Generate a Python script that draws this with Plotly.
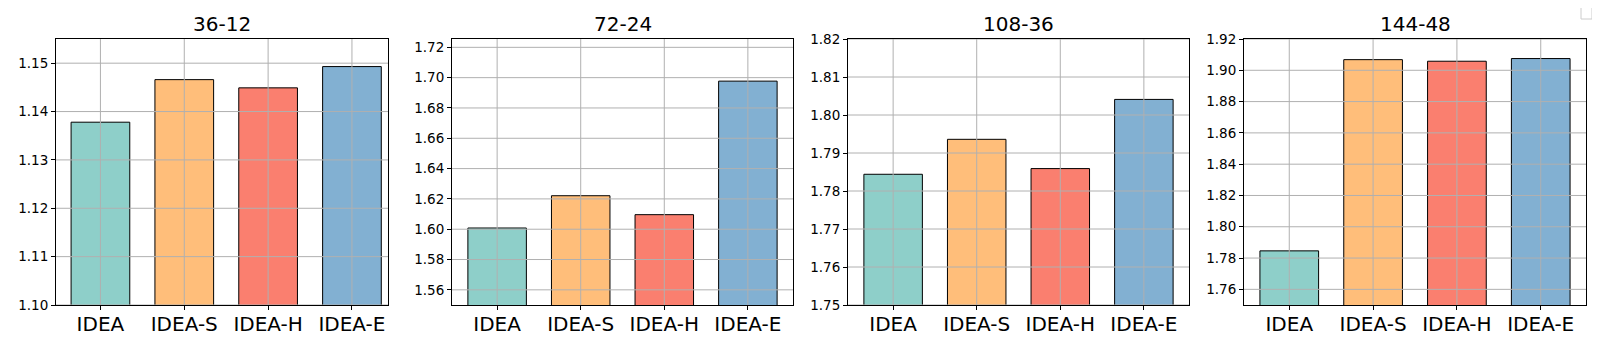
import numpy as np
import plotly.graph_objects as go
from plotly.subplots import make_subplots

# categories and results
models = ["IDEA", "IDEA-S", "IDEA-H", "IDEA-E"]
settings = ["36-12", "72-24", "108-36", "144-48"]

mse_36_12 = [1.1378, 1.1466, 1.1449, 1.1493]
mse_72_24 = [1.6008, 1.6221, 1.6096, 1.6977]
mse_108_36 = [1.7844, 1.7936, 1.7859, 1.8041]
mse_144_48 = [1.7846, 1.9068, 1.9058, 1.9075]

y_ranges = [[1.10, 1.155], [1.55, 1.7255], [1.75, 1.82], [1.75, 1.92]]
y_steps = [0.01, 0.02, 0.01, 0.02]

colors = ["#8ECFC9", "#FFBE7A", "#FA7F6F", "#82B0D2"]

all_values = [mse_36_12, mse_72_24, mse_108_36, mse_144_48]

# the page body has an 8px margin, so the figure is a bit smaller and
# all pixel positions are shifted by that amount
OFF = 8
W, H = 1600 - 2 * OFF, 350 - 2 * OFF


def px(x):
    return (x - OFF) / W


def py(y):
    return 1 - (y - OFF) / H


# panel positions in window pixels
x_pix = [(56, 388), (452, 793), (848, 1189), (1244, 1586)]
x_ranges = [[-0.53, 3.43], [-0.54, 3.54], [-0.54, 3.54], [-0.54, 3.54]]
y_dom = [py(305), py(39)]
grid_col = "#b0b0b0"

fig = make_subplots(rows=1, cols=4)

for i, vals in enumerate(all_values):
    fig.add_trace(go.Bar(
        x=models,
        y=vals,
        width=0.7,
        marker=dict(color=colors, line=dict(color="black", width=1)),
        showlegend=False,
    ), row=1, col=i + 1)

    x0, x1 = x_pix[i]
    fig.update_xaxes(
        domain=[px(x0), px(x1)], range=x_ranges[i],
        showgrid=False, automargin=False,
        showline=True, linecolor="black", linewidth=1, mirror=True,
        ticks="outside", ticklen=4, tickcolor="black",
        ticklabelstandoff=-3,
        tickfont=dict(size=20, color="black"),
        row=1, col=i + 1)
    fig.update_yaxes(
        domain=y_dom, range=y_ranges[i], dtick=y_steps[i], tick0=0,
        tickformat=".2f",
        showgrid=False, zeroline=False, automargin=False,
        showline=True, linecolor="black", linewidth=1, mirror=True,
        ticks="outside", ticklen=4, tickcolor="black",
        tickfont=dict(size=13.5, color="black"),
        row=1, col=i + 1)

    # grid drawn on top of the bars, like the matplotlib original
    xr = "x" if i == 0 else f"x{i + 1}"
    yr = "y" if i == 0 else f"y{i + 1}"
    for m in models:
        fig.add_shape(type="line", xref=xr, yref=f"{yr} domain",
                      x0=m, x1=m, y0=0, y1=1, layer="above",
                      line=dict(color=grid_col, width=1))
    lo, hi = y_ranges[i]
    step = y_steps[i]
    first = np.ceil(round(lo / step, 6)) * step
    for t in np.arange(first, hi + 1e-9, step):
        fig.add_shape(type="line", xref=f"{xr} domain", yref=yr,
                      x0=0, x1=1, y0=t, y1=t, layer="above",
                      line=dict(color=grid_col, width=1))

    fig.add_annotation(
        text=settings[i], xref="paper", yref="paper",
        x=px((x0 + x1) / 2), y=py(24),
        xanchor="center", yanchor="middle", showarrow=False,
        font=dict(size=20, color="black"))

# empty legend box in the top-right corner
fig.add_shape(type="rect", xref="paper", yref="paper",
              x0=px(1581), x1=px(1592), y0=py(19), y1=py(7),
              line=dict(color="#cccccc", width=1), fillcolor="white")

fig.update_layout(
    width=W, height=H,
    margin=dict(l=0, r=0, t=0, b=0),
    plot_bgcolor="white", paper_bgcolor="white",
    font=dict(family="DejaVu Sans", color="black"),
)

fig.write_html("out.html")
